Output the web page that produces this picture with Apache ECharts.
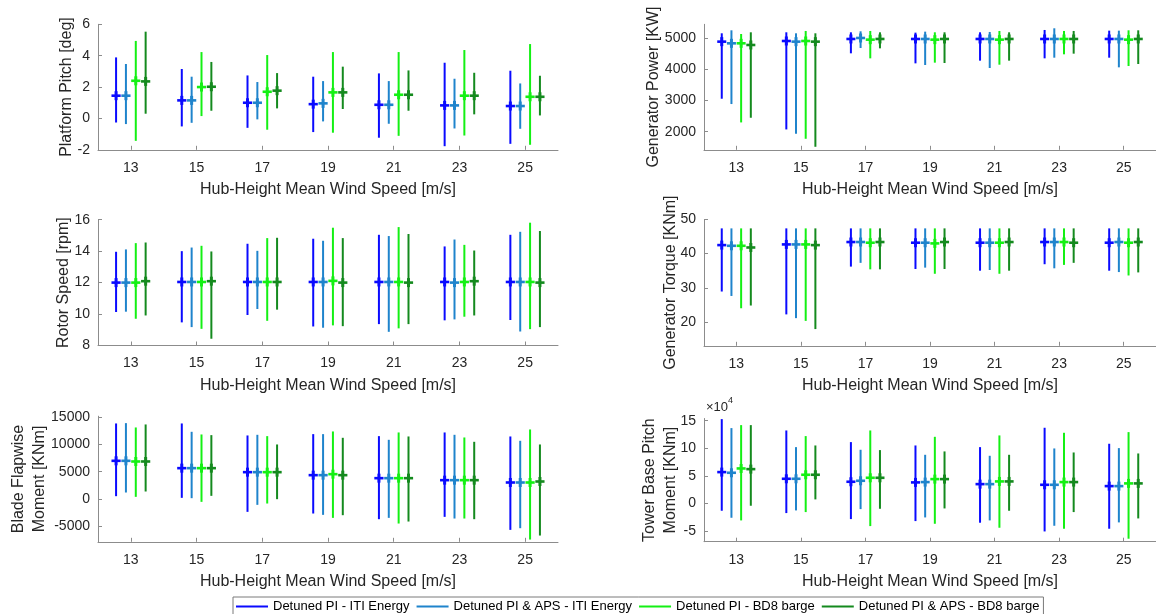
<!DOCTYPE html>
<html><head><meta charset="utf-8">
<script src="https://cdn.jsdelivr.net/npm/echarts@6/dist/echarts.min.js"></script>
<style>html,body{margin:0;padding:0;background:#fff}#c{width:1156px;height:614px}</style>
</head><body><div id="c"></div>
<script>
// ---------- DATA ----------
const windSpeeds = [13, 15, 17, 19, 21, 23, 25];
const seriesNames = ['Detuned PI - ITI Energy', 'Detuned PI & APS - ITI Energy', 'Detuned PI - BD8 barge', 'Detuned PI & APS - BD8 barge'];

// Platform Pitch [deg]  (rows: series in order of seriesNames)
const pitchMean = [[1.45,1.15,1.00,0.91,0.87,0.83,0.79],[1.45,1.15,1.00,0.96,0.87,0.83,0.79],[2.40,2.00,1.70,1.66,1.51,1.45,1.38],[2.36,2.02,1.77,1.66,1.51,1.45,1.38]];
const pitchMax  = [[3.89,3.15,2.74,2.66,2.87,3.55,3.04],[3.47,2.66,2.32,2.38,2.38,2.53,2.23],[4.94,4.23,4.04,4.23,4.23,4.36,4.74],[5.53,3.60,2.89,3.30,3.06,2.91,2.72]];
const pitchMin  = [[-0.26,-0.51,-0.60,-0.87,-1.23,-1.77,-1.62],[-0.36,-0.28,-0.06,-0.19,-0.34,-0.64,-0.66],[-1.43,0.15,-0.72,-0.91,-1.11,-1.09,-1.68],[0.30,0.49,0.64,0.60,0.49,0.26,0.19]];
const pitchTicks = [-2, 0, 2, 4, 6];

// Generator Power [KW]
const powerMean = [[4893,4914,4979,4979,4979,4979,4979],[4839,4893,5011,4979,4979,4979,4979],[4839,4914,4957,4957,4957,4979,4957],[4786,4893,4979,4979,4979,4979,4979]];
const powerMax  = [[5161,5193,5193,5182,5193,5268,5246],[5257,5161,5225,5214,5204,5322,5246],[5139,5236,5236,5193,5236,5236,5257],[5193,5161,5193,5193,5193,5236,5257]];
const powerMin  = [[3060,2074,4518,4196,4282,4357,4378],[2889,1935,4689,4143,4046,4378,4068],[2299,1774,4357,4218,4153,4486,4110],[2449,1517,4678,4207,4282,4507,4175]];
const powerTicks = [2000, 3000, 4000, 5000];

// Rotor Speed [rpm]
const rotorMean = [[12.0,12.04,12.04,12.04,12.04,12.04,12.04],[12.0,12.04,12.04,12.04,12.04,12.0,12.04],[12.0,12.04,12.04,12.11,12.04,12.04,12.04],[12.09,12.09,12.04,12.0,12.0,12.09,12.0]];
const rotorMax  = [[13.96,14.0,14.47,14.79,15.04,14.30,15.04],[14.11,14.23,14.02,14.66,14.96,14.74,15.23],[14.51,14.34,14.83,15.49,15.53,14.40,15.81],[14.55,13.98,14.85,14.83,15.09,14.04,15.28]];
const rotorMin  = [[10.13,9.47,9.94,9.21,9.36,9.60,9.62],[10.15,9.17,10.32,9.13,8.87,9.66,8.89],[9.70,9.06,9.57,9.28,9.09,9.83,9.04],[9.91,8.43,10.28,9.23,9.36,9.91,9.17]];
const rotorTicks = [8, 10, 12, 14, 16];

// Generator Torque [KNm]
const torqueMean = [[42.5,42.7,43.4,43.2,43.2,43.4,43.2],[42.3,42.7,43.4,43.2,43.2,43.4,43.4],[42.3,42.7,43.2,43.0,43.2,43.4,43.2],[41.8,42.5,43.4,43.4,43.4,43.2,43.4]];
const torqueMax  = [[47.4,47.4,47.4,47.4,47.4,47.4,47.4],[47.4,47.4,47.4,47.4,47.4,47.4,47.4],[47.4,47.4,47.4,47.4,47.4,47.4,47.4],[47.4,47.4,47.4,47.4,47.4,47.4,47.4]];
const torqueMin  = [[28.9,22.2,36.2,35.5,35.0,36.9,35.0],[27.6,21.1,37.3,35.9,35.2,35.7,34.6],[24.0,20.3,35.4,34.1,34.1,36.7,33.6],[24.8,17.9,35.4,35.5,35.0,37.3,34.5]];
const torqueTicks = [20, 30, 40, 50];

// Blade Flapwise Moment [KNm]
const flapMean = [[6994,5644,4908,4356,3804,3436,3006],[6994,5644,4908,4356,3804,3436,3006],[6871,5644,4908,4540,3804,3436,3006],[6871,5644,4908,4356,3804,3436,3190]];
const flapMax  = [[13865,13865,11657,11902,11534,12209,11472],[13926,12331,11779,11902,10859,11779,10675],[13129,11841,11534,12393,12209,11288,12761],[13681,11718,10000,11227,11472,10491,10000]];
const flapMin  = [[491,184,-2393,-2699,-3742,-3313,-5706],[1166,123,-1104,-2945,-3497,-3620,-5399],[368,-552,-859,-3497,-4540,-3620,-7485],[1350,552,-61,-3006,-4172,-3742,-6749]];
const flapTicks = [-5000, 0, 5000, 10000, 15000];

// Tower Base Pitch Moment [KNm] (x 10^4)
const towerMean = [[5.68,4.47,3.93,3.81,3.50,3.38,3.14],[5.56,4.47,4.11,3.87,3.50,3.38,3.14],[6.34,5.20,4.65,4.41,3.99,3.87,3.63],[6.22,5.20,4.65,4.41,3.99,3.87,3.63]];
const towerMax  = [[15.29,13.23,11.12,10.51,10.21,13.72,10.82],[13.66,10.21,9.73,8.82,8.64,9.97,10.03],[14.20,12.21,13.23,12.08,12.33,12.81,12.93],[14.20,10.51,9.67,9.43,8.82,9.24,9.06]];
const towerMin  = [[-1.33,-1.75,-2.84,-3.20,-3.50,-5.08,-4.59],[-2.60,-1.27,-1.03,-2.54,-3.08,-4.05,-3.44],[-3.08,-1.57,-4.11,-3.69,-4.41,-4.59,-6.40],[-0.42,0.73,-0.97,-0.91,-1.33,-1.57,-2.72]];
const towerTicks = [-5, 0, 5, 10, 15];

// ---------- STYLE / LAYOUT ----------
const COLORS = ['#0a0aff', '#1f84cc', '#14f014', '#148a1e'];
const OFFSETS = [-0.45, -0.15, 0.15, 0.45];
const HALF_TICK = 0.14;
const FONT = '"Liberation Sans", Arial, Helvetica, sans-serif';
const TXT = '#262626';
const AXC = '#8c8c8c';
const XLABEL = 'Hub-Height Mean Wind Speed [m/s]';

const panels = [
  {title:'Platform Pitch [deg]', mean:pitchMean, max:pitchMax, min:pitchMin, ticks:pitchTicks, ymin:-2, ymax:6,
   grid:{left:98, top:24.3, width:460, height:125.5}, nameGap:21},
  {title:'Generator Power [KW]', mean:powerMean, max:powerMax, min:powerMin, ticks:powerTicks, ymin:1420, ymax:5450,
   grid:{left:704, top:24.3, width:462, height:125.5}, nameGap:40},
  {title:'Rotor Speed [rpm]', mean:rotorMean, max:rotorMax, min:rotorMin, ticks:rotorTicks, ymin:8, ymax:16,
   grid:{left:98, top:219.7, width:460, height:125.8}, nameGap:24.5},
  {title:'Generator Torque [KNm]', mean:torqueMean, max:torqueMax, min:torqueMin, ticks:torqueTicks, ymin:13, ymax:50,
   grid:{left:704, top:219.5, width:462, height:126.3}, nameGap:23.5},
  {title:'Blade Flapwise\nMoment [KNm]', mean:flapMean, max:flapMax, min:flapMin, ticks:flapTicks, ymin:-7900, ymax:15200,
   grid:{left:98, top:416.2, width:460, height:125.6}, nameGap:48.5},
  {title:'Tower Base Pitch\nMoment [KNm]', mean:towerMean, max:towerMax, min:towerMin, ticks:towerTicks, ymin:-6.94, ymax:15.4,
   grid:{left:704, top:418.5, width:462, height:123.2}, nameGap:23.5}
];

function makeRender(k) {
  return function (params, api) {
    const x = api.value(0) + OFFSETS[k];
    const lo = api.coord([x, api.value(1)]);
    const hi = api.coord([x, api.value(2)]);
    const mu = api.coord([x, api.value(3)]);
    const half = api.size([HALF_TICK, 0])[0];
    const color = api.visual('color');
    return {
      type: 'group',
      children: [
        {type:'line', shape:{x1:lo[0], y1:lo[1], x2:hi[0], y2:hi[1]}, style:{stroke:color, lineWidth:2}},
        {type:'line', shape:{x1:mu[0]-half, y1:mu[1], x2:mu[0]+half, y2:mu[1]}, style:{stroke:color, lineWidth:2.6}},
        {type:'line', shape:{x1:mu[0], y1:mu[1]-4.5, x2:mu[0], y2:mu[1]+4.5}, style:{stroke:color, lineWidth:3}}
      ]
    };
  };
}

const plain = v => String(v);
const grids = [], xAxes = [], yAxes = [], series = [];
panels.forEach((p, i) => {
  grids.push(Object.assign({containLabel:false}, p.grid));
  xAxes.push({
    type:'value', gridIndex:i, min:12, max:26,
    name: XLABEL, nameLocation:'middle', nameGap:32, nameMoveOverlap:false,
    nameTextStyle:{fontFamily:FONT, fontSize:16, color:TXT},
    axisLine:{show:true, onZero:false, lineStyle:{color:AXC, width:1}},
    axisTick:{show:true, inside:true, length:4, customValues:windSpeeds, lineStyle:{color:AXC}},
    axisLabel:{show:true, customValues:windSpeeds, formatter:plain, margin:11, fontFamily:FONT, fontSize:14, color:TXT},
    splitLine:{show:false}
  });
  yAxes.push({
    type:'value', gridIndex:i, min:p.ymin, max:p.ymax,
    name: p.title, nameLocation:'middle', nameGap:p.nameGap, nameRotate:90, nameMoveOverlap:false,
    nameTextStyle:{fontFamily:FONT, fontSize:16, color:TXT, lineHeight:20.5},
    axisLine:{show:true, onZero:false, lineStyle:{color:AXC, width:1}},
    axisTick:{show:true, inside:true, length:4, customValues:p.ticks, lineStyle:{color:AXC}},
    axisLabel:{show:true, customValues:p.ticks, formatter:plain, margin:8, fontFamily:FONT, fontSize:14, color:TXT},
    splitLine:{show:false}
  });
  seriesNames.forEach((name, k) => {
    series.push({
      type:'custom', name:name, xAxisIndex:i, yAxisIndex:i,
      itemStyle:{color:COLORS[k]},
      renderItem: makeRender(k),
      encode:{x:0, y:[1,2,3]},
      data: windSpeeds.map((s, j) => [s, p.min[k][j], p.max[k][j], p.mean[k][j]]),
      clip:false, silent:true
    });
  });
});

const chart = echarts.init(document.getElementById('c'), null, {renderer:'canvas'});
chart.setOption({
  animation:false,
  backgroundColor:'#ffffff',
  grid:grids, xAxis:xAxes, yAxis:yAxes, series:series,
  legend:{
    left:233, top:597, orient:'horizontal',
    data: seriesNames.map((n, k) => ({name:n, icon:'rect', itemStyle:{color:COLORS[k]}})),
    itemWidth:32, itemHeight:2, itemGap:7,
    textStyle:{fontFamily:FONT, fontSize:13, color:'#000'},
    borderColor:'#7a7a7a', borderWidth:1, backgroundColor:'#fff', padding:[3,4,8,3],
    selectedMode:false
  },
  graphic:[
    {type:'text', x:706, y:401, style:{text:'×10', fontFamily:FONT, fontSize:13, fill:TXT}},
    {type:'text', x:728, y:396, style:{text:'4', fontFamily:FONT, fontSize:9, fill:TXT}}
  ]
});
</script></body></html>
